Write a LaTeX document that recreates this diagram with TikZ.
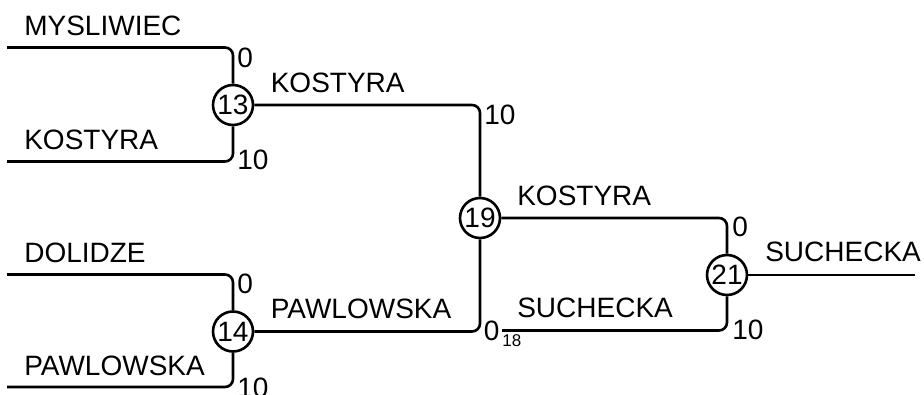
\documentclass[tikz,border=0pt]{standalone}
\usepackage{fontspec}
\setmainfont{Liberation Sans}
\begin{document}
\begin{tikzpicture}[x=1pt,y=-1pt,
  line width=2.6pt,
  lbl/.style={inner sep=0pt,anchor=base west,font=\fontsize{28}{33}\selectfont},
  sub/.style={inner sep=0pt,anchor=base west,font=\fontsize{17}{21}\selectfont},
  game/.style={circle,draw,inner sep=0pt,minimum size=40pt,font=\fontsize{28}{33}\selectfont},
  conn/.style={rounded corners=8pt}]
\useasboundingbox (0,0) rectangle (924,395);
\begin{scope}
\clip (0,0) rectangle (924,395);
% games
\node[game] (c13) at (233,105) {13};
\node[game] (c14) at (233,331.5) {14};
\node[game] (c19) at (480,218) {19};
\node[game] (c21) at (727,275) {21};
% free ends
\coordinate (s1) at (7,47.5);
\coordinate (s2) at (7,161.5);
\coordinate (s3) at (7,274.5);
\coordinate (s4) at (7,387);
\coordinate (s5) at (502,330.5);
\coordinate (e1) at (915,275);
% connectors
\draw[conn] (s1) -| (c13.north);
\draw[conn] (s2) -| (c13.south);
\draw[conn] (s3) -| (c14.north);
\draw[conn] (s4) -| (c14.south);
\draw[conn] (c13.east) -| (c19.north);
\draw[conn] (c14.east) -| (c19.south);
\draw[conn] (c19.east) -| (c21.north);
\draw[conn] (s5) -| (c21.south);
\draw (c21.east) -- (e1);
% names
\node[lbl] (n1) at (23,36) {MYSLIWIEC};
\node[lbl] (n2) at (23,149.5) {KOSTYRA};
\node[lbl] (n3) at (23,263) {DOLIDZE};
\node[lbl] (n4) at (23,375) {PAWLOWSKA};
\node[lbl] (n5) at (269.5,92.5) {KOSTYRA};
\node[lbl] (n6) at (269.5,318.5) {PAWLOWSKA};
\node[lbl] (n7) at (516,206) {KOSTYRA};
\node[lbl] (n8) at (516,318) {SUCHECKA};
\node[lbl] (n9) at (764,261.5) {SUCHECKA};
% scores
\node[lbl] (p1) at (236,68) {0};
\node[lbl] (p2) at (236,170) {10};
\node[lbl] (p3) at (236,293.5) {0};
\node[lbl] (p4) at (236,397) {10};
\node[lbl] (p5) at (483,124.5) {10};
\node[lbl] (p6) at (482.5,340.5) {0};
\node[sub] (p6s) at (501,346.5) {18};
\node[lbl] (p7) at (731,237) {0};
\node[lbl] (p8) at (731,340) {10};
\end{scope}
\end{tikzpicture}
\end{document}
